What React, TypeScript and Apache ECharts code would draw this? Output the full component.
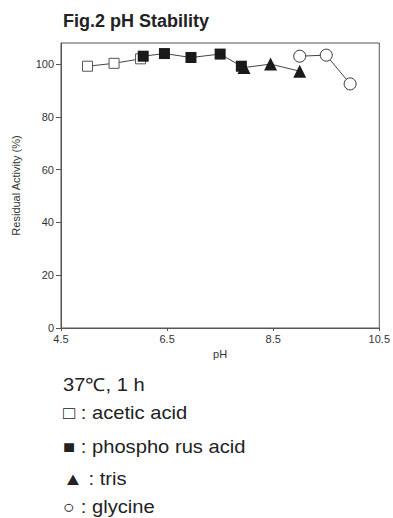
import React, { useEffect, useRef } from "react";
import * as echarts from "echarts";

const xTicks = [4.5, 6.5, 8.5, 10.5];
const yTicks = [0, 20, 40, 60, 80, 100];

const aceticPH = [5.0, 5.5, 6.0];
const aceticVal = [99.2, 100.3, 102];
const phosphoPH = [6.05, 6.45, 6.95, 7.5, 7.9];
const phosphoVal = [103, 104, 102.5, 103.8, 99.2];
const trisPH = [7.95, 8.45, 9.0];
const trisVal = [98.7, 100, 97.3];
const glycinePH = [9.0, 9.5, 9.95];
const glycineVal = [103, 103.4, 92.5];

const title = "Fig.2 pH Stability";
const xName = "pH";
const yName = "Residual Activity (%)";
const notes = [
  "37℃, 1 h",
  "□ : acetic acid",
  "■ : phospho rus acid",
  "▲ : tris",
  "○ : glycine",
];

const zip = (xs: number[], ys: number[]) => xs.map((x, i) => [x, ys[i]]);

export default function App() {
  const ref = useRef<HTMLDivElement>(null);
  useEffect(() => {
    document.body.style.margin = "0";
    document.body.style.overflow = "hidden";
    if (!ref.current) return;
    const chart = echarts.init(ref.current, null, { renderer: "svg" });
    const font = "'Liberation Sans', Arial, sans-serif";
    const lineStyle = { color: "#444", width: 1 };
    const noteY = [385, 413, 447, 479, 507];
    chart.setOption({
      animation: false,
      grid: {
        left: 61,
        right: 13,
        top: 43,
        bottom: 190,
        show: true,
        borderColor: "#555",
        borderWidth: 1,
      },
      xAxis: {
        type: "value",
        min: 4.5,
        max: 10.5,
        name: xName,
        nameLocation: "middle",
        nameGap: 19,
        nameTextStyle: { fontSize: 11, color: "#333", fontFamily: font },
        axisLine: { lineStyle: { color: "#555" } },
        axisTick: { show: true, length: 3, customValues: xTicks, lineStyle: { color: "#555" } },
        axisLabel: { customValues: xTicks, fontSize: 11, color: "#333", fontFamily: font, margin: 5 },
        splitLine: { show: false },
      },
      yAxis: {
        type: "value",
        min: 0,
        max: 108,
        name: yName,
        nameLocation: "middle",
        nameGap: 40,
        nameTextStyle: { fontSize: 11, color: "#333", fontFamily: font },
        axisLine: { show: true, lineStyle: { color: "#555" } },
        axisTick: { show: true, length: 5, customValues: yTicks, lineStyle: { color: "#555" } },
        axisLabel: { customValues: yTicks, fontSize: 11, color: "#333", fontFamily: font, margin: 7 },
        splitLine: { show: false },
      },
      series: [
        {
          type: "line",
          data: zip(aceticPH, aceticVal),
          symbol: "rect",
          symbolSize: 10,
          lineStyle,
          itemStyle: { color: "#fff", borderColor: "#555", borderWidth: 1 },
          z: 2,
        },
        {
          type: "line",
          data: zip(phosphoPH, phosphoVal),
          symbol: "rect",
          symbolSize: 11,
          lineStyle,
          itemStyle: { color: "#1a1a1a", borderColor: "#1a1a1a", borderWidth: 0 },
          z: 3,
        },
        {
          type: "line",
          data: zip(trisPH, trisVal),
          symbol: "triangle",
          symbolSize: 13,
          lineStyle,
          itemStyle: { color: "#1a1a1a", borderWidth: 0 },
          z: 4,
        },
        {
          type: "line",
          data: zip(glycinePH, glycineVal),
          symbol: "circle",
          symbolSize: 12,
          lineStyle,
          itemStyle: { color: "#fff", borderColor: "#333", borderWidth: 1 },
          z: 5,
        },
      ],
      graphic: [
        {
          type: "text",
          left: 63,
          top: 12,
          style: { text: title, font: `bold 18px ${font}`, fill: "#222" },
        },
        ...notes.map((t, i) => ({
          type: "text",
          x: 63,
          y: noteY[i],
          scaleX: 1.12,
          style: {
            text: t,
            font: `18px ${font}`,
            fill: "#222",
            verticalAlign: "middle",
            textAlign: "left",
          },
        })),
      ],
    });
    return () => chart.dispose();
  }, []);
  return <div ref={ref} style={{ width: 393, height: 518 }} />;
}
